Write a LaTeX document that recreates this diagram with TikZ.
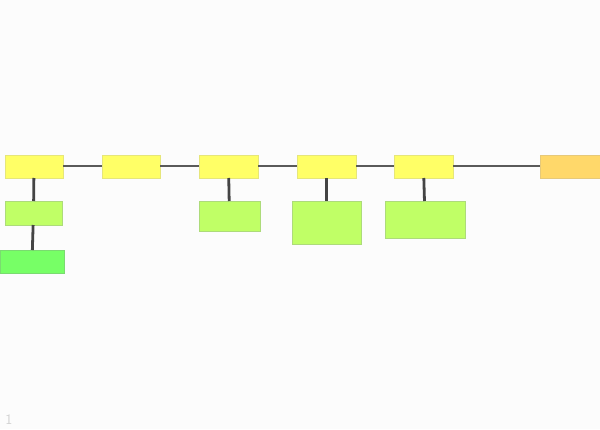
\documentclass[tikz,border=0pt]{standalone}
\usepackage{tikz}
\usetikzlibrary{positioning, calc}
\definecolor{bggray}{HTML}{FCFCFC}
\definecolor{topyellow}{HTML}{FFFF66}
\definecolor{topedge}{HTML}{E6E67A}
\definecolor{subgreen}{HTML}{C0FF66}
\definecolor{subedge}{HTML}{ADDB7A}
\definecolor{leafgreen}{HTML}{77FF66}
\definecolor{leafedge}{HTML}{7ADB70}
\definecolor{endorange}{HTML}{FFD86A}
\definecolor{endedge}{HTML}{E6C97A}
\definecolor{linkgray}{HTML}{5A5A5A}
\definecolor{stemgray}{HTML}{444444}
\tikzset{
  box/.style={rectangle, inner sep=0pt, outer sep=0pt, line width=0.8pt},
  topbox/.style={box, fill=topyellow, draw=topedge, minimum width=58pt, minimum height=23pt},
  subbox/.style={box, fill=subgreen, draw=subedge},
  leafbox/.style={box, fill=leafgreen, draw=leafedge},
  endbox/.style={box, fill=endorange, draw=endedge},
  hlink/.style={linkgray, line width=2pt},
  vlink/.style={stemgray, line width=2.8pt}
}
\begin{document}
\begin{tikzpicture}[x=1pt, y=1pt]
    \fill[bggray] (0,0) rectangle (600,429);
    \useasboundingbox (0,0) rectangle (600,429);
    % top row
    \node[topbox] (t1) at (34,262.5) {};
    \node[topbox] (t2) at (131,262.5) {};
    \node[topbox, minimum width=59pt] (t3) at (228.5,262.5) {};
    \node[topbox, minimum width=59pt] (t4) at (326.5,262.5) {};
    \node[topbox, minimum width=59pt] (t5) at (423.5,262.5) {};
    \node[endbox, minimum width=60pt, minimum height=23pt] (end) at (570,262.5) {};
    % second row
    \node[subbox, minimum width=57pt, minimum height=24pt] (s1) at (33.5,216) {};
    \node[leafbox, minimum width=64pt, minimum height=23pt] (g1) at (32,167.5) {};
    \node[subbox, minimum width=61pt, minimum height=30pt] (s3) at (229.5,213) {};
    \node[subbox, minimum width=69pt, minimum height=43pt] (s4) at (326.5,206.5) {};
    \node[subbox, minimum width=80pt, minimum height=37pt] (s5) at (425,209.5) {};
    % links
    \draw[hlink] (t1) -- (t2);
    \draw[hlink] (t2) -- (t3);
    \draw[hlink] (t3) -- (t4);
    \draw[hlink] (t4) -- (t5);
    \draw[hlink] (t5) -- (end);
    \draw[vlink] (t1) -- (s1);
    \draw[vlink] (s1) -- (g1);
    \draw[vlink] (t3) -- (s3);
    \draw[vlink] (t4) -- (s4);
    \draw[vlink] (t5) -- (s5);
    % page number
    \node[text=black!18, font=\sffamily\Large, inner sep=0pt] (num) at (9,9.5) {1};
  \end{tikzpicture}
\end{document}
